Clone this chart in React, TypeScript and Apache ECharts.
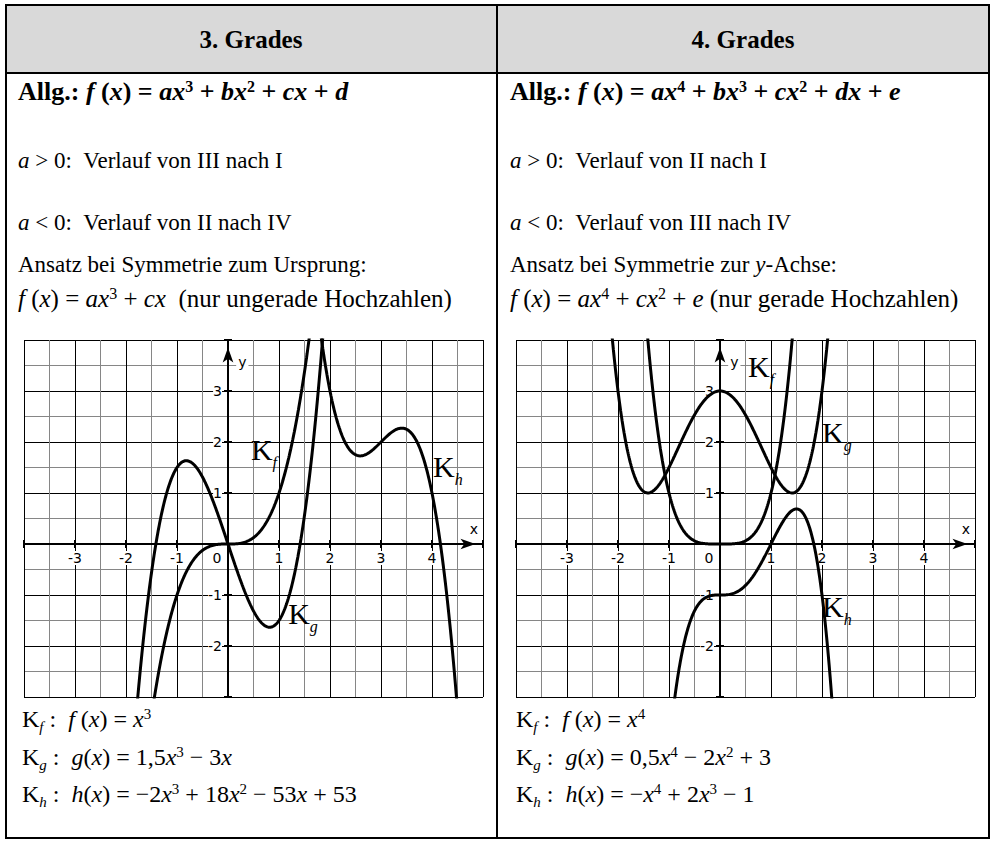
import React, { useEffect, useRef } from 'react';
import * as echarts from 'echarts';

const WIDTH = 992;
const HEIGHT = 845;

// Polynomial coefficients, highest power first
const cubicF = [1, 0, 0, 0]; // x^3
const cubicG = [1.5, 0, -3, 0]; // 1,5x^3 - 3x
const cubicH = [-2, 18, -53, 53]; // -2x^3 + 18x^2 - 53x + 53
const quarticF = [1, 0, 0, 0, 0]; // x^4
const quarticG = [0.5, 0, -2, 0, 3]; // 0,5x^4 - 2x^2 + 3
const quarticH = [-1, 2, 0, 0, -1]; // -x^4 + 2x^3 - 1

// Plot window and the ticks that carry a number
const xMin = -4;
const xMax = 5;
const yMin = -3;
const yMax = 4;
const xTickLabels = [-3, -2, -1, 0, 1, 2, 3, 4];
const yTickLabels = [-2, -1, 1, 2, 3];

const headers = ['3. Grades', '4. Grades'];

type Run = [string, string];

const leftRows: Run[][] = [
  [['b', 'Allg.: '], ['bi', 'f'], ['b', ' ('], ['bi', 'x'], ['b', ') = '], ['bi', 'ax'], ['bsup', '3'], ['b', ' + '], ['bi', 'bx'], ['bsup', '2'], ['b', ' + '], ['bi', 'cx'], ['b', ' + '], ['bi', 'd']],
  [['i', 'a'], ['r', ' > 0:  Verlauf von III nach I']],
  [['i', 'a'], ['r', ' < 0:  Verlauf von II nach IV']],
  [['r', 'Ansatz bei Symmetrie zum Ursprung:']],
  [['i', 'f'], ['r', ' ('], ['i', 'x'], ['r', ') = '], ['i', 'ax'], ['sup', '3'], ['r', ' + '], ['i', 'cx'], ['r', '  (nur ungerade Hochzahlen)']],
];
const rightRows: Run[][] = [
  [['b', 'Allg.: '], ['bi', 'f'], ['b', ' ('], ['bi', 'x'], ['b', ') = '], ['bi', 'ax'], ['bsup', '4'], ['b', ' + '], ['bi', 'bx'], ['bsup', '3'], ['b', ' + '], ['bi', 'cx'], ['bsup', '2'], ['b', ' + '], ['bi', 'dx'], ['b', ' + '], ['bi', 'e']],
  [['i', 'a'], ['r', ' > 0:  Verlauf von II nach I']],
  [['i', 'a'], ['r', ' < 0:  Verlauf von III nach IV']],
  [['r', 'Ansatz bei Symmetrie zur '], ['i', 'y'], ['r', '-Achse:']],
  [['i', 'f'], ['r', ' ('], ['i', 'x'], ['r', ') = '], ['i', 'ax'], ['sup', '4'], ['r', ' + '], ['i', 'cx'], ['sup', '2'], ['r', ' + '], ['i', 'e'], ['r', ' (nur gerade Hochzahlen)']],
];
const leftDefs: Run[][] = [
  [['r', 'K'], ['sub', 'f'], ['r', ' :  '], ['i', 'f'], ['r', ' ('], ['i', 'x'], ['r', ') = '], ['i', 'x'], ['sup', '3']],
  [['r', 'K'], ['sub', 'g'], ['r', ' :  '], ['i', 'g'], ['r', '('], ['i', 'x'], ['r', ') = 1,5'], ['i', 'x'], ['sup', '3'], ['r', ' − 3'], ['i', 'x']],
  [['r', 'K'], ['sub', 'h'], ['r', ' :  '], ['i', 'h'], ['r', '('], ['i', 'x'], ['r', ') = −2'], ['i', 'x'], ['sup', '3'], ['r', ' + 18'], ['i', 'x'], ['sup', '2'], ['r', ' − 53'], ['i', 'x'], ['r', ' + 53']],
];
const rightDefs: Run[][] = [
  [['r', 'K'], ['sub', 'f'], ['r', ' :  '], ['i', 'f'], ['r', ' ('], ['i', 'x'], ['r', ') = '], ['i', 'x'], ['sup', '4']],
  [['r', 'K'], ['sub', 'g'], ['r', ' :  '], ['i', 'g'], ['r', '('], ['i', 'x'], ['r', ') = 0,5'], ['i', 'x'], ['sup', '4'], ['r', ' − 2'], ['i', 'x'], ['sup', '2'], ['r', ' + 3']],
  [['r', 'K'], ['sub', 'h'], ['r', ' :  '], ['i', 'h'], ['r', '('], ['i', 'x'], ['r', ') = −'], ['i', 'x'], ['sup', '4'], ['r', ' + 2'], ['i', 'x'], ['sup', '3'], ['r', ' − 1']],
];

// Curve names and where their labels sit, in plot units
const cubicCurveNames = ['f', 'g', 'h'];
const cubicLabelAt = [[0.45, 1.86], [1.18, -1.37], [4.02, 1.52]];
const quarticCurveNames = ['f', 'g', 'h'];
const quarticLabelAt = [[0.55, 3.49], [2.0, 2.19], [2.0, -1.22]];

// Layout
const SERIF = 'Liberation Serif';
const SANS = 'DejaVu Sans';
const GRID_TOP = 340;
const GRID_W = 459;
const GRID_H = 357;
const GRID_LEFT = [24, 516];
const COL_TEXT_X = [18, 510];
const DEF_TEXT_X = [22, 516];
const COL_CENTER = [251, 743];
const ROW_Y = [91, 160, 222, 264, 298];
const ROW_SIZE = [26, 23, 23, 23, 25];
const DEF_Y = [719, 757, 794];
const DEF_SIZE = 24;

// Axis lines cross at the origin: shift each axis from its grid edge to value 0
const xAxisShiftBottom = -((0 - yMin) / (yMax - yMin)) * GRID_H;
const xAxisShiftTop = -((yMax - 0) / (yMax - yMin)) * GRID_H;
const yAxisShiftLeft = -((0 - xMin) / (xMax - xMin)) * GRID_W;
const yAxisShiftRight = -((xMax - 0) / (xMax - xMin)) * GRID_W;

const evalPoly = (c: number[], x: number) => c.reduce((acc, k) => acc * x + k, 0);
const sampleCurve = (c: number[]) => {
  const pts: number[][] = [];
  for (let i = xMin * 100; i <= xMax * 100; i++) {
    const x = i / 100;
    pts.push([x, evalPoly(c, x)]);
  }
  return pts;
};

const nb = (s: string) => s.replace(/ /g, '\u00A0');
const toRich = (runs: Run[]) => runs.map(([k, t]) => `{${k}|${nb(t)}}`).join('');

const makeBodyRich = (size: number) => {
  const lh = Math.round(size * 1.35);
  const base = { fontFamily: SERIF, fontSize: size, lineHeight: lh, fill: '#000' };
  const small = Math.round(size * 0.62);
  const up = Math.round(size * 0.4);
  const down = Math.round(size * 0.66);
  return {
    r: { ...base },
    i: { ...base, fontStyle: 'italic' },
    b: { ...base, fontWeight: 'bold' },
    bi: { ...base, fontWeight: 'bold', fontStyle: 'italic' },
    sup: { ...base, fontSize: small, padding: [0, 0, up, 0] },
    bsup: { ...base, fontSize: small, fontWeight: 'bold', padding: [0, 0, up, 0] },
    sub: { ...base, fontSize: small, fontStyle: 'italic', padding: [down, 0, 0, 0] },
  };
};

const TICK_FONT = 14;
const tickLabelRich = {
  n: { fontFamily: SANS, fontSize: TICK_FONT, color: '#000', backgroundColor: '#fff' },
  z: { fontFamily: SANS, fontSize: TICK_FONT, color: '#000', backgroundColor: '#fff' },
  gap: { width: 22 },
};

const xLabel = (v: number) => {
  if (!xTickLabels.includes(v)) return '';
  return v === 0 ? '{z|0}{gap|\u00A0}' : `{n|${v}}`;
};
const yLabel = (v: number) => (yTickLabels.includes(v) ? `{n|${v}}` : '');

const tickStyle = { show: true, length: 4, lineStyle: { color: '#000', width: 2 } };
const arrowLine = {
  show: true, onZero: false, symbol: ['none', 'arrow'], symbolSize: [8, 15], symbolOffset: [0, -7.5],
  lineStyle: { color: '#000', width: 2 },
};

const mainX = (g: number) => ({
  type: 'value', gridIndex: g, min: xMin, max: xMax, interval: 1, position: 'bottom', offset: xAxisShiftBottom,
  axisLine: arrowLine,
  axisTick: tickStyle,
  axisLabel: { show: true, margin: 7, formatter: xLabel, rich: tickLabelRich, fontFamily: SANS, fontSize: TICK_FONT, color: '#000' },
  splitLine: { show: true, lineStyle: { color: '#000', width: 1 } },
  minorTick: { show: false, splitNumber: 2 },
  minorSplitLine: { show: true, lineStyle: { color: '#868686', width: 1 } },
});
const twinX = (g: number) => ({
  type: 'value', gridIndex: g, min: xMin, max: xMax, interval: 1, position: 'top', offset: xAxisShiftTop,
  axisLine: { show: false, onZero: false },
  axisTick: tickStyle, axisLabel: { show: false }, splitLine: { show: false },
});
const mainY = (g: number) => ({
  type: 'value', gridIndex: g, min: yMin, max: yMax, interval: 1, position: 'left', offset: yAxisShiftLeft,
  axisLine: arrowLine,
  axisTick: tickStyle,
  axisLabel: { show: true, margin: 6, formatter: yLabel, rich: tickLabelRich, fontFamily: SANS, fontSize: TICK_FONT, color: '#000' },
  splitLine: { show: true, lineStyle: { color: '#000', width: 1 } },
  minorTick: { show: false, splitNumber: 2 },
  minorSplitLine: { show: true, lineStyle: { color: '#868686', width: 1 } },
});
const twinY = (g: number) => ({
  type: 'value', gridIndex: g, min: yMin, max: yMax, interval: 1, position: 'right', offset: yAxisShiftRight,
  axisLine: { show: false, onZero: false },
  axisTick: tickStyle, axisLabel: { show: false }, splitLine: { show: false },
});

const curve = (c: number[], axis: number) => ({
  type: 'line', xAxisIndex: axis, yAxisIndex: axis, data: sampleCurve(c),
  showSymbol: false, symbol: 'none', smooth: false, clip: true, silent: true, z: 5,
  lineStyle: { color: '#000', width: 3 },
});

const baseOption = () => ({
  animation: false,
  backgroundColor: '#fff',
  grid: GRID_LEFT.map((left) => ({
    left, top: GRID_TOP, width: GRID_W, height: GRID_H, containLabel: false, outerBoundsMode: 'none',
  })),
  xAxis: [mainX(0), twinX(0), mainX(1), twinX(1)],
  yAxis: [mainY(0), twinY(0), mainY(1), twinY(1)],
  series: [
    curve(cubicF, 0), curve(cubicG, 0), curve(cubicH, 0),
    curve(quarticF, 2), curve(quarticG, 2), curve(quarticH, 2),
  ],
});

const buildGraphics = (chart: echarts.ECharts) => {
  const els: any[] = [];
  // table frame
  els.push({ type: 'rect', shape: { x: 6, y: 5, width: 983, height: 68 }, style: { fill: '#d9d9d9' } });
  els.push({ type: 'rect', shape: { x: 6, y: 5, width: 983, height: 833 }, style: { fill: 'none', stroke: '#000', lineWidth: 2 } });
  els.push({ type: 'line', shape: { x1: 6, y1: 73, x2: 989, y2: 73 }, style: { stroke: '#000', lineWidth: 2 } });
  els.push({ type: 'line', shape: { x1: 497, y1: 5, x2: 497, y2: 838 }, style: { stroke: '#000', lineWidth: 2 } });

  headers.forEach((h, c) => {
    els.push({
      type: 'text', x: COL_CENTER[c], y: 39,
      style: { text: h, fontFamily: SERIF, fontSize: 25, fontWeight: 'bold', fill: '#000', align: 'center', verticalAlign: 'middle' },
    });
  });

  [leftRows, rightRows].forEach((rows, c) => {
    rows.forEach((runs, r) => {
      els.push({
        type: 'text', x: COL_TEXT_X[c], y: ROW_Y[r],
        style: { text: toRich(runs), rich: makeBodyRich(ROW_SIZE[r]), align: 'left', verticalAlign: 'middle' },
      });
    });
  });
  const defRich = makeBodyRich(DEF_SIZE);
  [leftDefs, rightDefs].forEach((rows, c) => {
    rows.forEach((runs, r) => {
      els.push({
        type: 'text', x: DEF_TEXT_X[c], y: DEF_Y[r],
        style: { text: toRich(runs), rich: defRich, align: 'left', verticalAlign: 'middle' },
      });
    });
  });

  const curveRich = {
    K: { fontFamily: SERIF, fontSize: 30, lineHeight: 40, fill: '#000' },
    s: { fontFamily: SERIF, fontSize: 16, fontStyle: 'italic', lineHeight: 40, fill: '#000', padding: [26, 0, 0, 0] },
  };
  const finders = [{ xAxisIndex: 0, yAxisIndex: 0 }, { xAxisIndex: 2, yAxisIndex: 2 }];
  [[cubicCurveNames, cubicLabelAt], [quarticCurveNames, quarticLabelAt]].forEach(([names, at]: any, g) => {
    names.forEach((n: string, k: number) => {
      const p = chart.convertToPixel(finders[g] as any, at[k]) as number[];
      els.push({
        type: 'text', x: p[0], y: p[1], z: 20,
        style: { text: `{K|K}{s|${n}}`, rich: curveRich, align: 'left', verticalAlign: 'middle' },
      });
    });
    const py = chart.convertToPixel(finders[g] as any, [0.16, 3.57]) as number[];
    els.push({
      type: 'text', x: py[0], y: py[1], z: 20,
      style: { text: 'y', fontFamily: SANS, fontSize: TICK_FONT, fill: '#000', backgroundColor: '#fff', padding: [0, 2], align: 'left', verticalAlign: 'middle' },
    });
    const px = chart.convertToPixel(finders[g] as any, [4.82, 0.3]) as number[];
    els.push({
      type: 'text', x: px[0], y: px[1], z: 20,
      style: { text: 'x', fontFamily: SANS, fontSize: TICK_FONT, fill: '#000', backgroundColor: '#fff', padding: [0, 1], align: 'center', verticalAlign: 'middle' },
    });
  });
  return els;
};

export default function App() {
  const ref = useRef<HTMLDivElement>(null);
  useEffect(() => {
    const el = ref.current;
    if (!el) return;
    const chart = echarts.init(el, undefined, { renderer: 'svg', width: WIDTH, height: HEIGHT });
    chart.setOption(baseOption() as any);
    chart.setOption({ graphic: buildGraphics(chart) } as any);
    return () => chart.dispose();
  }, []);
  return (
    <div
      ref={ref}
      style={{ position: 'fixed', left: 0, top: 0, width: WIDTH, height: HEIGHT, background: '#fff' }}
    />
  );
}
